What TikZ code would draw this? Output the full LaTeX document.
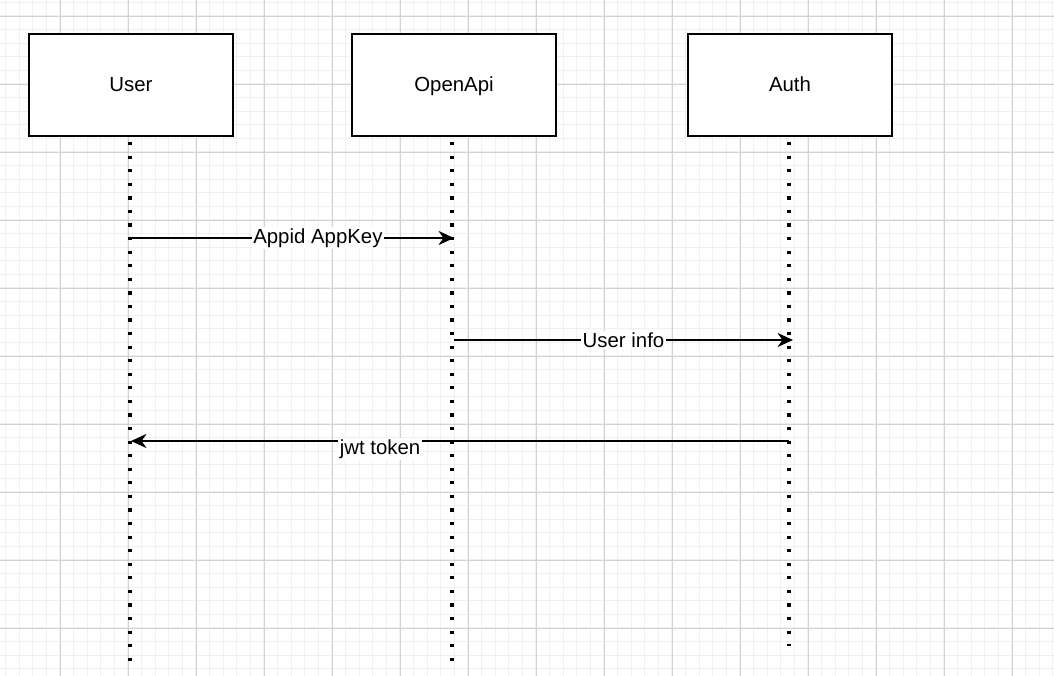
\documentclass[tikz,border=0pt]{standalone}
\usepackage{fontspec}
\setmainfont{Liberation Sans}
\usetikzlibrary{positioning, arrows.meta}
\definecolor{gridminor}{HTML}{F0F0F0}
\definecolor{gridmajor}{HTML}{D3D3D3}

\begin{document}
\begin{tikzpicture}[
    x=0.025cm, y=-0.025cm,
    actor/.style={rectangle, draw, line width=1.4pt, fill=white, minimum width=5.1cm, minimum height=2.55cm, text height=0.95em, text depth=0em, font=\fontsize{14.5}{17}\selectfont},
    lifeline/.style={line width=2.3pt, dash pattern=on 2.3pt off 7.35pt},
    msg/.style={-{Stealth[length=11pt, width=10pt, inset=3.5pt]}, line width=1.1pt},
    msglabel/.style={fill=white, inner sep=1pt, font=\fontsize{14.5}{17}\selectfont}
]

% background and grid
\useasboundingbox (0,0) rectangle (1054,676);
\fill[white] (0,0) rectangle (1054,676);
\foreach \i in {0,...,77} \draw[gridminor, line width=0.8pt] (5.6+13.6*\i,0) -- (5.6+13.6*\i,676);
\foreach \j in {0,...,49} \draw[gridminor, line width=0.8pt] (0,2.4+13.6*\j) -- (1054,2.4+13.6*\j);
\foreach \i in {0,...,14} \draw[gridmajor, line width=0.6pt] (60+68*\i,0) -- (60+68*\i,676);
\foreach \j in {0,...,9} \draw[gridmajor, line width=0.6pt] (0,16+68*\j) -- (1054,16+68*\j);

% participants
\node[actor] (user) at (131,85) {User};
\node[actor] (openapi) at (454,85) {OpenApi};
\node[actor] (auth) at (790,85) {Auth};

% lifelines
\coordinate (userend) at (130,663);
\coordinate (openapiend) at (452,663);
\coordinate (authend) at (789,646);
\draw[lifeline] (130,142) -- (userend);
\draw[lifeline] (452,142) -- (openapiend);
\draw[lifeline] (789,142) -- (authend);

% messages
\coordinate (u1) at (130,238);
\coordinate (o1) at (454,238);
\coordinate (o2) at (454,340);
\coordinate (a2) at (793,340);
\coordinate (a3) at (789,441);
\coordinate (u3) at (131,441);
\draw[msg] (u1) -- node[msglabel, pos=0.58] (key) {Appid AppKey} (o1);
\draw[msg] (o2) -- node[msglabel, pos=0.5] (info) {User info} (a2);
\draw[msg] (a3) -- (u3);
\node[msglabel] (jwt) at (380,449) {jwt token};

\end{tikzpicture}
\end{document}
